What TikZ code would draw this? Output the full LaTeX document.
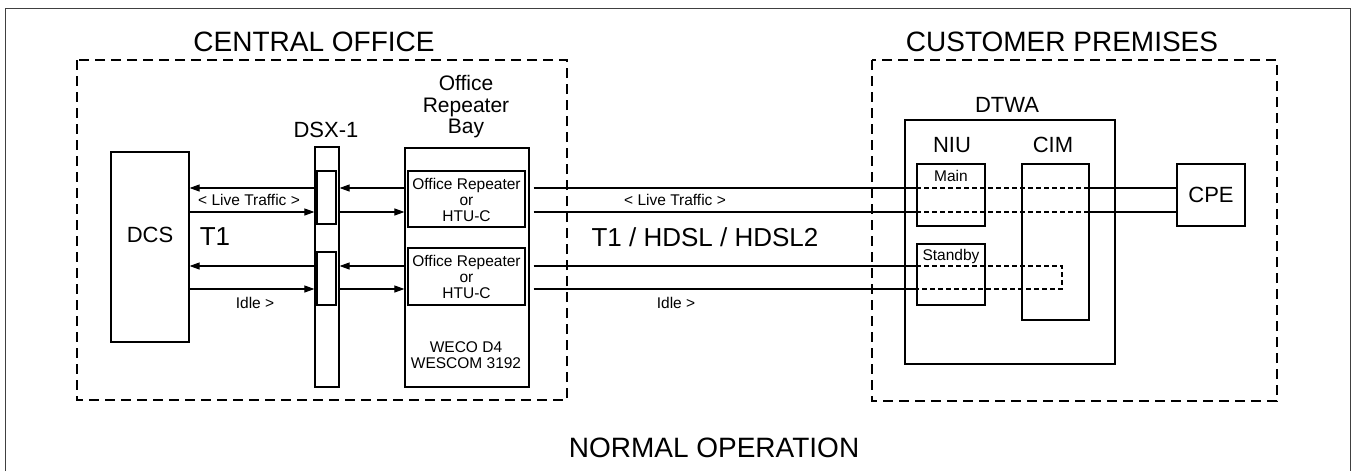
\documentclass[tikz,border=0pt]{standalone}
\usepackage{fontspec}
\setmainfont{Liberation Sans}
\usetikzlibrary{arrows.meta}
\newcommand{\bigtxt}{\fontsize{28}{30}\selectfont}
\newcommand{\midtxt}{\fontsize{22}{22}\selectfont}
\newcommand{\smltxt}{\fontsize{15.5}{16}\selectfont}
\tikzset{
  box/.style={draw, line width=1.2pt, inner sep=0pt},
  zone/.style={draw, line width=1.1pt, dash pattern=on 10pt off 6pt},
  arr/.style={line width=1.1pt, -{Triangle[length=10pt,width=7pt]}},
  wire/.style={line width=1.1pt},
  inwire/.style={line width=1.1pt, dash pattern=on 5pt off 3pt},
}
\begin{document}
\begin{tikzpicture}[x=1pt,y=-1pt]
\useasboundingbox (0,0) rectangle (1351,471);
\draw[line width=1pt, black!75] (5,471) -- (5,8) -- (1350,8) -- (1350,471);
\draw[zone] (77,60) rectangle (567,400);
\draw[zone] (872,60) rectangle (1277,401);
\node[font=\bigtxt] (cotitle) at (314,42) {CENTRAL OFFICE};
\node[font=\bigtxt] (cptitle) at (1062,42) {CUSTOMER PREMISES};
\node[font=\bigtxt] (normal) at (714,448) {NORMAL OPERATION};
\node[box, minimum width=78, minimum height=190] (dcs) at (150,247) {};
\node[font=\midtxt] (dcslbl) at (150,235) {DCS};
\node[box, minimum width=24, minimum height=240] (dsx) at (327,267) {};
\node[font=\midtxt] (dsxlbl) at (326,130) {DSX-1};
\node[box, minimum width=19, minimum height=53] (dsxa) at (326.5,197.5) {};
\node[box, minimum width=19, minimum height=53] (dsxb) at (326.5,278.5) {};
\node[box, minimum width=124, minimum height=239] (bay) at (467,267.5) {};
\node[align=center, font=\fontsize{21}{21.5}\selectfont] (baylbl) at (466,107) {Office\\Repeater\\Bay};
\node[box, minimum width=117, minimum height=56] (repa) at (466.5,199) {};
\node[box, minimum width=117, minimum height=57] (repb) at (466.5,276.5) {};
\node[align=center, font=\smltxt] (repalbl) at (466.5,200) {Office Repeater\\or\\HTU-C};
\node[align=center, font=\smltxt] (repblbl) at (466.5,277) {Office Repeater\\or\\HTU-C};
\node[align=center, font=\smltxt] (weco) at (466,355) {WECO D4\\WESCOM 3192};
\node[box, minimum width=210, minimum height=244] (dtwa) at (1010,242) {};
\node[font=\midtxt] (dtwalbl) at (1007,105) {DTWA};
\node[font=\midtxt] (niulbl) at (952,145) {NIU};
\node[font=\midtxt] (cimlbl) at (1053,145) {CIM};
\node[box, minimum width=68, minimum height=62] (main) at (951,195) {};
\node[font=\smltxt] (mainlbl) at (951,176) {Main};
\node[box, minimum width=68, minimum height=61] (stby) at (951,274.5) {};
\node[font=\smltxt] (stbylbl) at (951,256) {Standby};
\node[box, minimum width=67, minimum height=156] (cim) at (1055.5,242) {};
\node[box, minimum width=68, minimum height=62, font=\midtxt] (cpe) at (1211,195) {CPE};
\coordinate (loopr) at (1062,0);
\draw[arr] (dsx.west |- 0,188) -- (dcs.east |- 0,188);
\draw[arr] (dcs.east |- 0,212) -- (dsx.west |- 0,212);
\draw[arr] (dsx.west |- 0,266) -- (dcs.east |- 0,266);
\draw[arr] (dcs.east |- 0,289) -- (dsx.west |- 0,289);
\draw[arr] (bay.west |- 0,188) -- (dsx.east |- 0,188);
\draw[arr] (dsx.east |- 0,212) -- (bay.west |- 0,212);
\draw[arr] (bay.west |- 0,266) -- (dsx.east |- 0,266);
\draw[arr] (dsx.east |- 0,289) -- (bay.west |- 0,289);
\foreach \yy in {188,212} {
  \draw[wire] ([xshift=4pt]bay.east |- 0,\yy) -- (main.west |- 0,\yy);
  \draw[inwire] (main.west |- 0,\yy) -- (cim.east |- 0,\yy);
  \draw[wire] (cim.east |- 0,\yy) -- (cpe.west |- 0,\yy);
}
\draw[wire] ([xshift=4pt]bay.east |- 0,266) -- (stby.west |- 0,266);
\draw[wire] ([xshift=4pt]bay.east |- 0,289) -- (stby.west |- 0,289);
\draw[inwire] (stby.west |- 0,266) -- (loopr |- 0,266) -- (loopr |- 0,289) -- (stby.west |- 0,289);
\node[font=\smltxt] (livea) at (249,200) {< Live Traffic >};
\node[font=\smltxt] (idlea) at (255,303) {Idle >};
\node[font=\smltxt] (liveb) at (675,200) {< Live Traffic >};
\node[font=\smltxt] (idleb) at (676,303) {Idle >};
\node[font=\fontsize{26}{26}\selectfont] (t1) at (215,237) {T1};
\node[font=\fontsize{26}{26}\selectfont] (t1hdsl) at (705,237) {T1 / HDSL / HDSL2};
\end{tikzpicture}
\end{document}
